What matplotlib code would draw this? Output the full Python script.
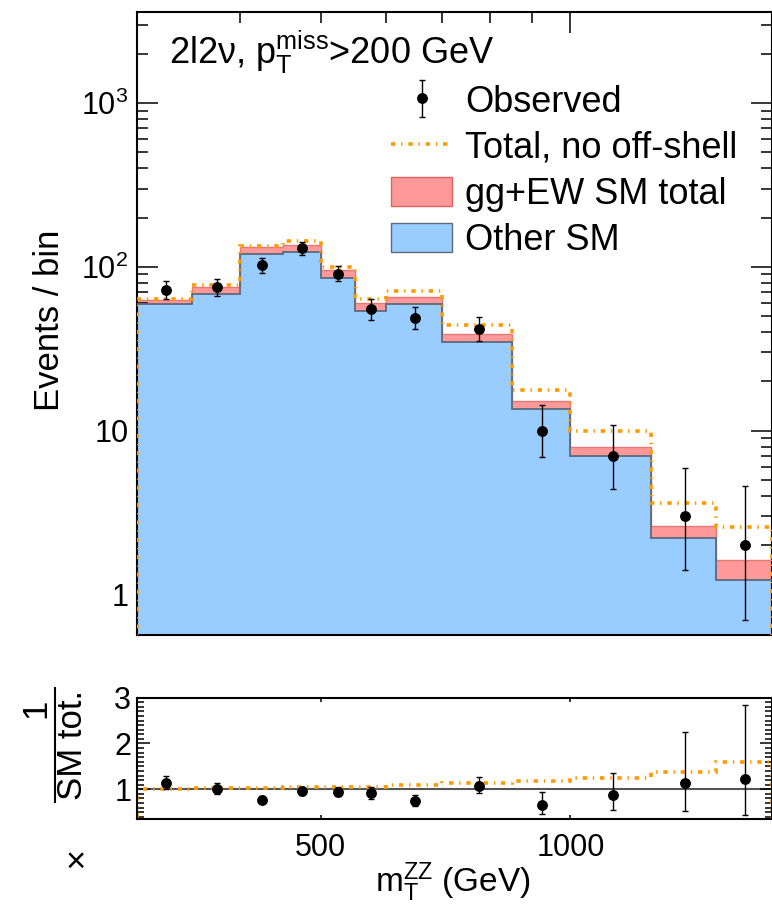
import numpy as np
import matplotlib.pyplot as plt
import matplotlib.ticker as ticker
from matplotlib.patches import Patch
from matplotlib.lines import Line2D

plt.rcParams['font.family'] = ['Liberation Sans', 'DejaVu Sans']
plt.rcParams['mathtext.fontset'] = 'custom'
plt.rcParams['mathtext.rm'] = 'Liberation Sans'
plt.rcParams['mathtext.it'] = 'Liberation Sans:italic'
plt.rcParams['mathtext.bf'] = 'Liberation Sans:bold'

# bins in m_T^ZZ (GeV)
edges = [300, 350, 400, 450, 500, 550, 600, 700, 850, 1000, 1250, 1500, 1750]

# stacked expectation, events / bin
other_sm = [59, 68, 120, 123, 86, 54, 59.5, 35, 13.5, 7.0, 2.2, 1.23]
sm_total = [63, 75, 132, 136, 96, 60, 65.3, 39, 15.1, 8.0, 2.63, 1.62]
no_offshell = [64, 77, 135, 143, 100, 63.5, 71.4, 44, 17.8, 10.0, 3.64, 2.57]

# data with asymmetric poisson errors
observed = [72, 75, 102, 130, 91, 55, 49, 42, 10, 7, 3, 2]
obs_err_lo = [8.4, 8.6, 10.1, 11.4, 9.5, 7.4, 7.0, 6.5, 3.1, 2.6, 1.6, 1.3]
obs_err_hi = [9.5, 9.7, 11.1, 12.4, 10.6, 8.5, 8.0, 7.5, 4.3, 3.8, 2.9, 2.6]

c_blue = '#99ccff'
c_red = '#ff9999'
c_orange = '#ff9a00'
orange_ls = (0, (1.2, 1.6, 0.4, 1.6))

e = np.array(edges, dtype=float)
centers = 0.5 * (e[1:] + e[:-1])
tot = np.array(sm_total)

W, H = 772, 905
fig = plt.figure(figsize=(W / 100, H / 100), dpi=100)
ax1 = fig.add_axes([136.7 / W, 1 - 635 / H, 1 - 136.7 / W, 623 / H])
ax2 = fig.add_axes([136.7 / W, 1 - 819 / H, 1 - 136.7 / W, 121.3 / H])

# ---- main panel
ax1.stairs(sm_total, edges, fill=True, color=c_red, baseline=1e-3, zorder=1)
ax1.stairs(other_sm, edges, fill=True, color=c_blue, baseline=1e-3, zorder=2)
ax1.stairs(sm_total, edges, color='#e87878', lw=1.0, baseline=None, zorder=3)
ax1.stairs(other_sm, edges, color='#5c6a7c', lw=1.3, baseline=None, zorder=3)
ax1.stairs(no_offshell, edges, color=c_orange, lw=2.6, ls=orange_ls,
           baseline=1e-3, zorder=4)
obs = ax1.errorbar(centers, observed, yerr=[obs_err_lo, obs_err_hi], fmt='o',
                   color='black', ms=6.8, elinewidth=1.0, capsize=2.5,
                   capthick=1.0, zorder=5)

ax1.set_xscale('log')
ax1.set_yscale('log')
ax1.set_xlim(300, 1750)
ax1.set_ylim(0.565, 3600)

ax1.yaxis.set_major_locator(ticker.FixedLocator([1, 10, 100, 1000]))
ax1.yaxis.set_major_formatter(ticker.FixedFormatter(
    ['1', '10', r'$\mathregular{10^{2}}$', r'$\mathregular{10^{3}}$']))
ax1.yaxis.set_minor_locator(ticker.LogLocator(subs=np.arange(2, 10), numticks=20))
ax1.yaxis.set_minor_formatter(ticker.NullFormatter())
ax1.xaxis.set_major_locator(ticker.FixedLocator([1000]))
ax1.xaxis.set_minor_locator(ticker.FixedLocator([400, 500, 600, 700, 800, 900]))
ax1.xaxis.set_major_formatter(ticker.NullFormatter())
ax1.xaxis.set_minor_formatter(ticker.NullFormatter())

ax1.tick_params(which='both', direction='in', top=True, right=True, width=1.1)
ax1.tick_params(which='major', length=15, labelsize=22, pad=6)
ax1.tick_params(which='minor', length=8)
for s in ax1.spines.values():
    s.set_linewidth(1.5)

ax1.text(0.051, 0.9165, r'2l2ν, p$_{\mathregular{T}}^{\mathregular{miss}}$>200 GeV',
         transform=ax1.transAxes, fontsize=26, va='baseline', ha='left')

handles = [obs,
           Line2D([], [], color=c_orange, lw=2.6, ls=orange_ls),
           Patch(facecolor=c_red, edgecolor='#e06060', lw=1.0),
           Patch(facecolor=c_blue, edgecolor='#5c6a7c', lw=1.0)]
labels = ['Observed', 'Total, no off-shell', 'gg+EW SM total', 'Other SM']
ax1.legend(handles, labels, loc='upper left', bbox_to_anchor=(0.40, 0.883),
           frameon=False, fontsize=26, borderpad=0, borderaxespad=0,
           handlelength=1.7, handleheight=0.87, handletextpad=0.35,
           labelspacing=0.3)

# ---- ratio panel
ax2.axhline(1.0, color='#555555', lw=1.5, zorder=1)
ax2.stairs(np.array(no_offshell) / tot, edges, color=c_orange, lw=2.6,
           ls=orange_ls, baseline=0, zorder=2)
ax2.errorbar(centers, np.array(observed) / tot,
             yerr=[np.array(obs_err_lo) / tot, np.array(obs_err_hi) / tot],
             fmt='o', color='black', ms=6.8, elinewidth=1.0, capsize=2.5,
             capthick=1.0, zorder=3)

ax2.set_xscale('log')
ax2.set_xlim(300, 1750)
ax2.set_ylim(0.35, 3)
ax2.xaxis.set_major_locator(ticker.FixedLocator([500, 1000]))
ax2.xaxis.set_major_formatter(ticker.FixedFormatter(['500', '1000']))
ax2.xaxis.set_minor_locator(ticker.NullLocator())
ax2.yaxis.set_major_locator(ticker.MultipleLocator(1))
ax2.yaxis.set_minor_locator(ticker.MultipleLocator(0.1))
ax2.tick_params(which='both', direction='in', top=True, right=True, width=1.1)
ax2.tick_params(axis='y', which='major', length=9, labelsize=22, pad=4)
ax2.tick_params(axis='y', which='minor', length=5)
ax2.tick_params(axis='x', which='major', length=3, labelsize=22, pad=10)
for s in ax2.spines.values():
    s.set_linewidth(1.5)

fig.text(453 / W, 1 - 892 / H, r'm$_{\mathregular{T}}^{\mathregular{ZZ}}$ (GeV)',
         fontsize=24, ha='center', va='baseline')
fig.text(50 / W, 1 - 320 / H, 'Events / bin', fontsize=25, rotation=90,
         ha='center', va='center')

# ratio y label: "x 1 / SM tot." written as a rotated fraction
fig.text(36 / W, 1 - 708 / H, '1', fontsize=25, rotation=90,
         ha='center', va='center')
fig.text(72 / W, 1 - 745 / H, 'SM tot.', fontsize=25, rotation=90,
         ha='center', va='center')
fig.add_artist(Line2D([55 / W, 55 / W], [1 - 688 / H, 1 - 802 / H],
                      transform=fig.transFigure, color='black', lw=1.5))
fig.text(76 / W, 1 - 862 / H, '×', fontsize=25, ha='center', va='center')

fig.savefig('out.png', dpi=100)
